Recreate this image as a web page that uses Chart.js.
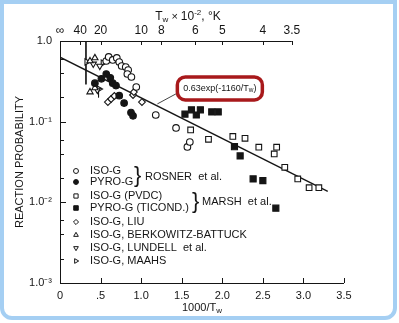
<!DOCTYPE html>
<html>
<head>
<meta charset="utf-8">
<script src="https://cdn.jsdelivr.net/npm/chart.js@4.4.0/dist/chart.umd.min.js"></script>
<style>
  html, body { margin: 0; padding: 0; background: #fff; }
  #wrap { position: relative; width: 399px; height: 323px; overflow: hidden; }
  #frame { position: absolute; left: 0; top: 0; width: 397px; height: 320px; box-sizing: border-box;
    border: 4px solid #a5cff3; border-radius: 0 0 12px 12px; pointer-events: none; }
  canvas { position: absolute; left: 0; top: 0; }
</style>
</head>
<body>
<div id="wrap">
  <canvas id="chart" width="399" height="323"></canvas>
  <div id="frame"></div>
</div>
<script>
// values (x = 1000/Tw, y = reaction probability)
const rosnerIsoX = [0.57, 0.60, 0.65, 0.70, 0.73, 0.76, 0.81, 0.84, 0.83, 0.88, 0.94, 1.18, 1.43, 1.57, 1.60];
const rosnerIsoY = [0.565, 0.634, 0.582, 0.616, 0.549, 0.490, 0.476, 0.437, 0.390, 0.358, 0.269, 0.121, 0.0836, 0.0486, 0.056];
const rosnerPyroX = [0.43, 0.51, 0.57, 0.62, 0.65, 0.69, 0.73, 0.79, 0.875, 0.90];
const rosnerPyroY = [0.30, 0.34, 0.39, 0.35, 0.30, 0.28, 0.21, 0.17, 0.13, 0.118];
const marshIsoX = [1.61, 1.83, 2.13, 2.28, 2.45, 2.67, 2.64, 2.77, 2.93, 3.07, 3.19];
const marshIsoY = [0.079, 0.0605, 0.0656, 0.0622, 0.0482, 0.0482, 0.0398, 0.0272, 0.0195, 0.0152, 0.0152];
const marshPyroX = [1.54, 1.62, 1.68, 1.73, 1.87, 1.95, 2.15, 2.22, 2.38, 2.50, 2.66];
const marshPyroY = [0.124, 0.140, 0.121, 0.140, 0.132, 0.132, 0.049, 0.0376, 0.0195, 0.0186, 0.00846];
const liuX = [0.59, 0.63, 0.67, 0.90, 0.91, 1.01];
const liuY = [0.175, 0.191, 0.208, 0.214, 0.233, 0.175];
const berkX = [0.37, 0.43, 0.37, 0.43];
const berkY = [0.565, 0.616, 0.233, 0.262];
const lundellX = [0.41, 0.49, 0.46];
const lundellY = [0.52, 0.49, 0.247];
const maahsX = [0.33, 0.48, 0.53];
const maahsY = [0.55, 0.254, 0.534];

const fitX = [0, 3.3];
const fitY = [0.63, 0.0137];
const bracketX = [0.32, 0.32];
const bracketY = [1.0, 0.29];
const errX = [0.475, 0.475];
const errY = [0.265, 0.2];
const leaderX = [1.2, 1.45];
const leaderY = [0.166, 0.227];

const xTicks = [0, 0.5, 1, 1.5, 2, 2.5, 3, 3.5];
const xTickLabels = ["0", ".5", "1.0", "1.5", "2.0", "2.5", "3.0", "3.5"];
const topTickPos = [0, 0.25, 0.5, 1, 1.25, 1.667, 2, 2.5, 2.857];
const topTickLabels = ["\u221e", "40", "20", "10", "8", "6", "5", "4", "3.5"];
const yMajor = [1, 0.1, 0.01, 0.001];
const yMajorLabels = ["1.0", "1.0\u207b\u00b9", "1.0\u207b\u00b2", "1.0\u207b\u00b3"];
const yMinor = [0.6, 0.4, 0.2, 0.06, 0.04, 0.02, 0.006, 0.004, 0.002];

const INK = "#151515";
const FONT = "'Liberation Sans', Arial, sans-serif";

function pts(xs, ys) { return xs.map((v, i) => ({ x: v, y: ys[i] })); }

const markers = [
  { label: "ISO-G", x: rosnerIsoX, y: rosnerIsoY, style: "circle", r: 3.3, fill: false },
  { label: "PYRO-G", x: rosnerPyroX, y: rosnerPyroY, style: "circle", r: 3.3, fill: true },
  { label: "ISO-G (PVDC)", x: marshIsoX, y: marshIsoY, style: "rect", r: 4.0, fill: false },
  { label: "PYRO-G (TICOND.)", x: marshPyroX, y: marshPyroY, style: "rect", r: 4.3, fill: true },
  { label: "ISO-G, LIU", x: liuX, y: liuY, style: "rectRot", r: 3.4, fill: false },
  { label: "ISO-G, BERKOWITZ-BATTUCK", x: berkX, y: berkY, style: "triangle", r: 3.6, fill: false, rot: 0 },
  { label: "ISO-G, LUNDELL  et al.", x: lundellX, y: lundellY, style: "triangle", r: 3.6, fill: false, rot: 180 },
  { label: "ISO-G, MAAHS", x: maahsX, y: maahsY, style: "triangle", r: 3.6, fill: false, rot: 90 }
];
const legendRowsY = [171, 182, 196, 208, 222, 235, 248, 261];

const datasets = markers.map(m => ({
  label: m.label,
  data: pts(m.x, m.y),
  pointStyle: m.style,
  pointRadius: m.r,
  pointRotation: m.rot || 0,
  pointBackgroundColor: m.fill ? INK : "#fff",
  pointBorderColor: INK,
  pointBorderWidth: 1.1
}));
function lineSet(xs, ys, w) {
  return { data: pts(xs, ys), showLine: true, borderColor: INK, borderWidth: w, pointRadius: 0, fill: false };
}
datasets.push(lineSet(leaderX, leaderY, 0.8));
datasets.push(lineSet(bracketX, bracketY, 0.9));
datasets.push(lineSet(errX, errY, 0.9));
datasets.push(lineSet(fitX, fitY, 1.3));

// text with sub/superscripts: parts = [[text, size, dy]]
function richText(ctx, parts, cx, cy) {
  let w = 0;
  parts.forEach(p => { ctx.font = p[1] + "px " + FONT; w += ctx.measureText(p[0]).width; });
  let x = cx - w / 2;
  ctx.textAlign = "left";
  ctx.textBaseline = "middle";
  parts.forEach(p => {
    ctx.font = p[1] + "px " + FONT;
    ctx.fillText(p[0], x, cy + (p[2] || 0));
    x += ctx.measureText(p[0]).width;
  });
}

const axesPlugin = {
  id: "axes",
  beforeDatasetsDraw(chart) {
    const { ctx, chartArea: a, scales } = chart;
    const x = scales.x, y = scales.y, xt = scales.xTop;
    ctx.save();
    ctx.strokeStyle = INK;
    ctx.lineWidth = 1;
    ctx.beginPath();
    ctx.moveTo(a.left + 0.5, a.top);
    ctx.lineTo(a.left + 0.5, a.bottom + 1);
    ctx.moveTo(a.left, a.bottom + 0.5);
    ctx.lineTo(a.right, a.bottom + 0.5);
    ctx.moveTo(a.left, a.top + 0.5);
    ctx.lineTo(xt.getPixelForValue(topTickPos[topTickPos.length - 1]), a.top + 0.5);
    y.ticks.forEach(t => {
      const py = Math.round(y.getPixelForValue(t.value)) + 0.5;
      const len = yMajor.includes(t.value) ? 6 : 4;
      ctx.moveTo(a.left, py);
      ctx.lineTo(a.left + len, py);
    });
    x.ticks.forEach(t => {
      const px = Math.round(x.getPixelForValue(t.value)) + 0.5;
      ctx.moveTo(px, a.bottom);
      ctx.lineTo(px, a.bottom - 5);
    });
    xt.ticks.forEach(t => {
      const px = Math.round(xt.getPixelForValue(t.value)) + 0.5;
      ctx.moveTo(px, a.top);
      ctx.lineTo(px, a.top + 4);
    });
    ctx.stroke();

    ctx.fillStyle = INK;
    // axis titles
    richText(ctx, [["1000/T", 11], ["w", 8, 3]], (a.left + a.right) / 2, 308);
    richText(ctx, [["T", 12], ["w", 8, 3], [" \u00d7 ", 11], ["10", 12], ["-2", 8, -4], [", \u00b0K", 12]], 188, 17);
    ctx.save();
    ctx.translate(20, (a.top + a.bottom) / 2);
    ctx.rotate(-Math.PI / 2);
    ctx.font = "11px " + FONT;
    ctx.textAlign = "center";
    ctx.textBaseline = "middle";
    ctx.fillText("REACTION PROBABILITY", 0, 0);
    ctx.restore();

    // legend
    const mx = 76, tx = 90;
    markers.forEach((m, i) => {
      const ly = legendRowsY[i];
      ctx.fillStyle = m.fill ? INK : "#fff";
      ctx.strokeStyle = INK;
      ctx.lineWidth = 1;
      Chart.helpers.drawPoint(ctx, { pointStyle: m.style, radius: m.r * 0.75, rotation: m.rot || 0, borderWidth: 1 }, mx, ly);
      ctx.fillStyle = INK;
      ctx.font = "11px " + FONT;
      ctx.textAlign = "left";
      ctx.textBaseline = "middle";
      ctx.fillText(m.label, tx, ly);
    });
    ctx.font = "22px " + FONT;
    ctx.textBaseline = "middle";
    ctx.fillText("}", 134, legendRowsY[0] + 5);
    ctx.fillText("}", 192, legendRowsY[2] + 6);
    ctx.font = "11px " + FONT;
    ctx.fillText("ROSNER  et al.", 145, legendRowsY[0] + 6);
    ctx.fillText("MARSH  et al.", 202, legendRowsY[2] + 6);
    ctx.restore();
  },
  afterDraw(chart) {
    const { ctx, scales } = chart;
    const cx = scales.x.getPixelForValue(1.97);
    const cy = scales.y.getPixelForValue(0.258);
    const w = 85, h = 23, r = 8;
    ctx.save();
    ctx.fillStyle = "#fff";
    ctx.strokeStyle = "#a8191b";
    ctx.lineWidth = 3.5;
    ctx.beginPath();
    ctx.roundRect(cx - w / 2, cy - h / 2, w, h, r);
    ctx.fill();
    ctx.stroke();
    ctx.fillStyle = INK;
    richText(ctx, [["0.63exp(-1160/T", 9], ["w", 6.5, 2], [")", 9]], cx, cy);
    ctx.restore();
  }
};

new Chart(document.getElementById("chart"), {
  type: "scatter",
  data: { datasets },
  options: {
    responsive: false,
    animation: false,
    events: [],
    layout: { padding: { left: 0, right: 55, top: 0, bottom: 0 } },
    plugins: { legend: { display: false }, tooltip: { enabled: false } },
    scales: {
      x: {
        type: "linear", position: "bottom", min: 0, max: 3.5,
        afterBuildTicks: s => { s.ticks = xTicks.map(v => ({ value: v })); },
        afterFit: s => { s.height = 40; },
        grid: { display: false, drawTicks: false },
        border: { display: false },
        ticks: {
          autoSkip: false, maxRotation: 0, padding: 6, color: INK,
          font: { family: FONT, size: 11 },
          callback: v => xTickLabels[xTicks.indexOf(v)]
        }
      },
      xTop: {
        type: "linear", position: "top", min: 0, max: 3.5,
        afterBuildTicks: s => { s.ticks = topTickPos.map(v => ({ value: v })); },
        afterFit: s => { s.height = 41; },
        grid: { display: false, drawTicks: false },
        border: { display: false },
        ticks: {
          autoSkip: false, maxRotation: 0, padding: 3, color: INK,
          font: { family: FONT, size: 12 },
          callback: v => topTickLabels[topTickPos.indexOf(v)]
        }
      },
      y: {
        type: "logarithmic", min: 0.001, max: 1,
        afterBuildTicks: s => { s.ticks = yMajor.concat(yMinor).map(v => ({ value: v })); },
        afterFit: s => { s.width = 60; },
        grid: { display: false, drawTicks: false },
        border: { display: false },
        ticks: {
          autoSkip: false, padding: 8, color: INK,
          font: { family: FONT, size: 11 },
          callback: v => { const i = yMajor.indexOf(v); return i >= 0 ? yMajorLabels[i] : ""; }
        }
      }
    }
  },
  plugins: [axesPlugin]
});
</script>
</body>
</html>
